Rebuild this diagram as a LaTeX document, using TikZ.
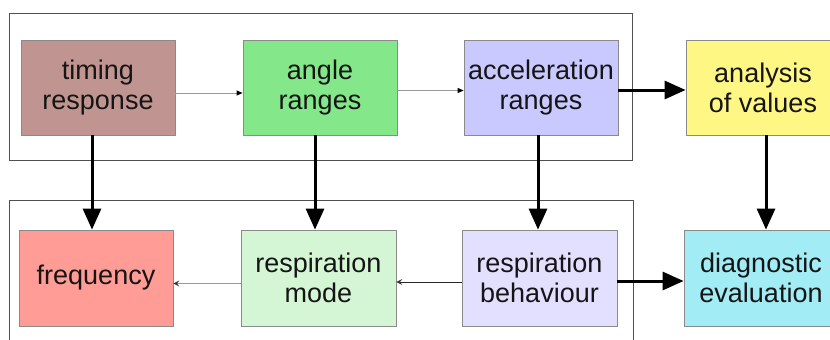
\documentclass[tikz,border=0pt]{standalone}
\usepackage{fontspec}
\setmainfont{Liberation Sans}
\usetikzlibrary{arrows.meta}
\definecolor{cTiming}{HTML}{C09591}
\definecolor{cAngle}{HTML}{84E78A}
\definecolor{cAccel}{HTML}{C9C9FF}
\definecolor{cAnalysis}{HTML}{FFF784}
\definecolor{cFreq}{HTML}{FF9C96}
\definecolor{cMode}{HTML}{D5F6D5}
\definecolor{cBehav}{HTML}{E3E0FF}
\definecolor{cDiag}{HTML}{A2EDF5}
\definecolor{cBorder}{HTML}{8A8A8A}
\definecolor{cFrame}{HTML}{505050}
\definecolor{cText}{HTML}{151515}
\tikzset{
  box/.style={draw=cBorder, line width=0.8pt, rectangle, inner sep=0pt,
    minimum width=154pt, minimum height=95pt, align=center,
    text=cText, font=\fontsize{27}{30}\selectfont},
  frame/.style={draw=cFrame, line width=0.9pt},
  heavy/.style={line width=3pt, -{Triangle[length=21pt,width=18pt]}},
  light/.style={draw=gray!80, line width=1pt, -{Triangle[length=6pt,width=5pt,color=black]}},
  lightback/.style={line width=1pt, -{Stealth[length=6pt,width=6pt,inset=2.5pt,color=black!80]}}
}
\begin{document}
\begin{tikzpicture}[x=1pt, y=-1pt]
  \clip (0,0) rectangle (830,340);
  \fill[white] (0,0) rectangle (830,340);

  % group frames
  \draw[frame] (9,13) rectangle (632,160);
  \draw[frame] (9,350) -- (9,200) -- (633,200) -- (633,350);

  % upper row
  \node[box, fill=cTiming]   (timing)   at (98,87.5)  {timing\\response};
  \node[box, fill=cAngle]    (angle)    at (320,87.5) {angle\\ranges};
  \node[box, fill=cAccel]    (accel)    at (541,87.5) {acceleration\\ranges};
  \node[box, fill=cAnalysis] (analysis) at (763,87.5) {analysis\\of values};

  % lower row
  \node[box, fill=cFreq,  minimum height=96pt]                      (freq)  at (96,278)    {frequency};
  \node[box, fill=cMode,  minimum height=96pt, minimum width=155pt] (mode)  at (318.5,278) {respiration\\mode};
  \node[box, fill=cBehav, minimum height=96pt, minimum width=155pt] (behav) at (539.5,278) {respiration\\behaviour};
  \node[box, fill=cDiag,  minimum height=96pt]                       (diag)  at (761,278)   {diagnostic\\evaluation};

  % horizontal links, upper row
  \draw[light] ([yshift=-5.5pt]timing.east) -- ([yshift=-5.5pt]timing.east -| angle.west);
  \draw[light] ([yshift=-3pt]angle.east) -- ([yshift=-3pt]angle.east -| accel.west);
  \draw[heavy] ([yshift=-2.5pt]accel.east) -- ([yshift=-2.5pt]accel.east -| analysis.west);

  % vertical links
  \draw[heavy] ([xshift=-6pt]timing.south) -- ([xshift=-6pt]timing.south |- freq.north);
  \draw[heavy] ([xshift=-5pt]angle.south) -- ([xshift=-5pt]angle.south |- mode.north);
  \draw[heavy] ([xshift=-3pt]accel.south) -- ([xshift=-3pt]accel.south |- behav.north);
  \draw[heavy] ([xshift=3pt]analysis.south) -- ([xshift=3pt]analysis.south |- diag.north);

  % horizontal links, lower row
  \draw[lightback, draw=gray!80] ([yshift=-5.5pt]mode.west) -- ([yshift=-5.5pt]mode.west -| freq.east);
  \draw[lightback, draw=black!85] ([yshift=-4pt]behav.west) -- ([yshift=-4pt]behav.west -| mode.east);
  \draw[heavy] ([yshift=-3pt]behav.east) -- ([yshift=-3pt]behav.east -| diag.west);
\end{tikzpicture}
\end{document}
